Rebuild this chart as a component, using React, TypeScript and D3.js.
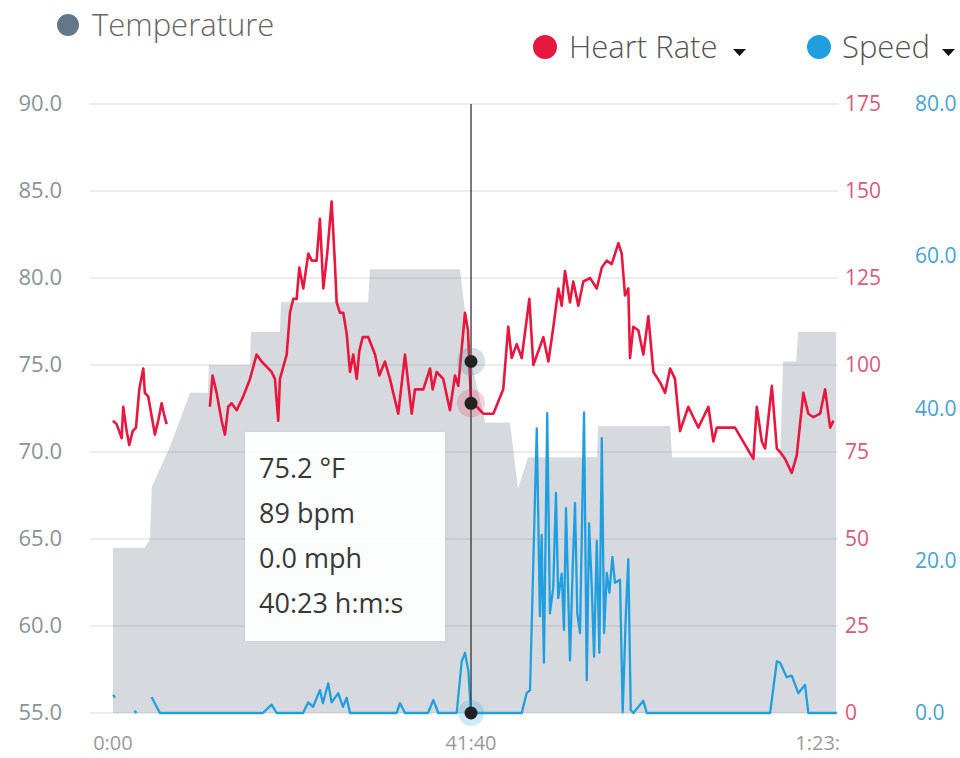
import React from "react";
import * as d3 from "d3";

// ---------- data (time in seconds) ----------
const timeTicks = [0, 2500, 5000];
const tempTicks = [55, 60, 65, 70, 75, 80, 85, 90];
const hrTicks = [0, 25, 50, 75, 100, 125, 150, 175];
const speedTicks = [0, 20, 40, 60, 80];

const tempTime = [0, 223, 258, 272, 398, 538, 663, 670, 957, 964, 1166, 1173, 1781, 1795, 2423, 2500, 2549, 2598, 2772, 2828, 2898, 3380, 3387, 3890, 3904, 4658, 4679, 4770, 4784, 5049];
const tempValue = [64.5, 64.5, 65.0, 68.0, 70.3, 73.4, 73.4, 75.0, 75.0, 76.9, 76.9, 78.6, 78.6, 80.5, 80.5, 75.2, 73.5, 71.7, 71.7, 67.9, 69.7, 69.7, 71.5, 71.5, 69.7, 69.7, 75.2, 75.2, 76.9, 76.9];

const hrTime = [0, 26, 61, 72, 96, 114, 138, 161, 184, 212, 223, 246, 293, 316, 340, 356, 375, 520,
  677, 696, 724, 759, 782, 805, 829, 864, 910, 957, 1003, 1038, 1108, 1131, 1154, 1166, 1213, 1236, 1259, 1283, 1301, 1329, 1364, 1388, 1422, 1445, 1469, 1496, 1527, 1550, 1562, 1585, 1608, 1632, 1655, 1678, 1702, 1720, 1744, 1783, 1830, 1860, 1899, 1934, 1992, 2039, 2086, 2109, 2167, 2214, 2232, 2260, 2306, 2353, 2388, 2411, 2458, 2479, 2500, 2540, 2586, 2656, 2725, 2760, 2784, 2819, 2854, 2907, 2935, 2970, 3005, 3040, 3075, 3110, 3133, 3156, 3191, 3214, 3249, 3284, 3331, 3378, 3413, 3448, 3482, 3529, 3552, 3575, 3598, 3610, 3633, 3668, 3703, 3738, 3773, 3820, 3855, 3890, 3924, 3959, 4017, 4052, 4087, 4122, 4157, 4192, 4216, 4285, 4343, 4471, 4495, 4530, 4553, 4600, 4635, 4658, 4693, 4739, 4774, 4820, 4855, 4890, 4937, 4972, 5007, 5030];
const hrValue = [84, 83, 79, 88, 81, 77, 81, 82, 93, 99, 92, 91, 80, 84, 89, 86, 83, null,
  88, 97, 92, 84, 80, 88, 89, 87, 91, 96, 103, 101, 98, 96, 84, 96, 103, 115, 119, 119, 128, 122, 132, 130, 130, 142, 122, 132, 147, 129, 118, 115, 115, 109, 98, 103, 96, 104, 108, 108, 103, 97, 101, 96, 86, 103, 86, 93, 93, 99, 93, 98, 96, 87, 97, 94, 115, 110, 89, 88, 86, 86, 93, 111, 102, 106, 102, 119, 100, 104, 108, 101, 111, 122, 117, 127, 118, 124, 117, 124, 125, 122, 128, 130, 129, 135, 132, 120, 122, 102, 111, 110, 103, 114, 98, 95, 92, 99, 96, 81, 88, 85, 82, 85, 88, 78, 82, 82, 82, 73, 88, 78, 76, 94, 76, 75, 73, 69, 74, 92, 86, 85, 86, 93, 82, 84];

const speedTime = [2, 14, 60, 150, 165, 200, 270, 328, 1047, 1108, 1143, 1327, 1364, 1397, 1445, 1466, 1503, 1527, 1573, 1606, 1632, 1655, 1981, 2004, 2039, 2200, 2237, 2272, 2400, 2435, 2458, 2481, 2500, 2854, 2888, 2912, 2959, 2981, 2993, 3009, 3032, 3051, 3074, 3093, 3109, 3133, 3149, 3163, 3191, 3210, 3226, 3242, 3261, 3289, 3308, 3324, 3343, 3359, 3378, 3396, 3413, 3429, 3448, 3466, 3487, 3505, 3540, 3559, 3580, 3598, 3615, 3633, 3703, 3727, 4588, 4635, 4658, 4704, 4739, 4785, 4832, 4855, 5053];
const speedValue = [2.4, 2.0, null, 0.3, 0, null, 2.1, 0, 0, 1.1, 0, 0, 1.4, 0.8, 3.0, 1.3, 3.9, 1.4, 2.6, 0.8, 2.0, 0, 0, 1.3, 0, 0, 1.7, 0, 0, 6.8, 7.9, 5.6, 0, 0, 2.6, 3.0, 37.4, 12.7, 23.4, 6.6, 39.4, 13.1, 16.5, 28.9, 15.1, 18.3, 10.9, 26.9, 6.9, 19.1, 27.6, 13.1, 10.5, 39.5, 4.3, 24.9, 16.5, 7.4, 22.6, 7.9, 36.1, 10.5, 18.4, 15.8, 20.5, 17.1, 17.5, 0.1, 12.5, 20.2, 0.4, 0, 1.6, 0, 0, 6.8, 6.6, 4.7, 4.9, 2.6, 3.7, 0, 0];

const hoverTime = 2500;
const hoverTemp = 75.2;
const hoverHr = 89;
const hoverSpeed = 0.0;
const tooltipLines = ["75.2 °F", "89 bpm", "0.0 mph", "40:23 h:m:s"];

const seriesNames = ["Temperature", "Heart Rate", "Speed"];

// ---------- layout ----------
const W = 960;
const H = 758;
const plotLeft = 90;
const plotRight = 838;
const plotTop = 104;
const plotBottom = 713;
const FONT = "'Open Sans', 'Noto Sans', sans-serif";

const TEMP_COLOR = "#63778a";
const HR_COLOR = "#e8173f";
const SPEED_COLOR = "#1f9fe0";

function fmtTime(s: number) {
  const h = Math.floor(s / 3600);
  const m = Math.floor((s % 3600) / 60);
  const sec = Math.round(s % 60);
  const ss = String(sec).padStart(2, "0");
  if (h > 0) return `${h}:${String(m).padStart(2, "0")}:${ss}`;
  return `${m}:${ss}`;
}

export default function App() {
  const x = d3.scaleLinear().domain([-160, 5062]).range([plotLeft, plotRight]);
  const yT = d3.scaleLinear().domain([55, 90]).range([plotBottom, plotTop]);
  const yH = d3.scaleLinear().domain([0, 175]).range([plotBottom, plotTop]);
  const yS = d3.scaleLinear().domain([0, 80]).range([plotBottom, plotTop]);

  const tempData = tempTime.map((t, i) => ({ t, v: tempValue[i] }));
  const hrData = hrTime.map((t, i) => ({ t, v: hrValue[i] as number | null }));
  const speedData = speedTime.map((t, i) => ({ t, v: speedValue[i] as number | null }));

  const area = d3
    .area<{ t: number; v: number }>()
    .x((d) => x(d.t))
    .y0(yT(55))
    .y1((d) => yT(d.v))(tempData) as string;

  const hrLine = d3
    .line<{ t: number; v: number | null }>()
    .defined((d) => d.v !== null)
    .x((d) => x(d.t))
    .y((d) => yH(d.v as number))(hrData) as string;

  const spLine = d3
    .line<{ t: number; v: number | null }>()
    .defined((d) => d.v !== null)
    .x((d) => x(d.t))
    .y((d) => yS(d.v as number))(speedData) as string;

  const hx = x(hoverTime);

  return (
    <svg
      width={W}
      height={H}
      style={{ position: "absolute", left: 0, top: 0, background: "#fff" }}
      fontFamily={FONT}
    >
      <defs>
        <clipPath id="xclip">
          <rect x={0} y={0} width={plotRight + 1} height={H} />
        </clipPath>
        <filter id="shadow" x="-10%" y="-10%" width="120%" height="120%">
          <feDropShadow dx="0" dy="1" stdDeviation="2" floodColor="#000" floodOpacity="0.06" />
        </filter>
      </defs>

      {/* legend */}
      <circle cx={68} cy={25} r={11} fill={TEMP_COLOR} />
      <text x={92} y={36} fontSize={31} fill="#666" fontWeight={300}>
        {seriesNames[0]}
      </text>
      <circle cx={545} cy={47} r={12} fill={HR_COLOR} />
      <text x={569} y={58} fontSize={31} fill="#555" fontWeight={300}>
        {seriesNames[1]}
      </text>
      <path d="M733,49 L746,49 L739.5,56 Z" fill="#111" />
      <circle cx={819} cy={47} r={12} fill={SPEED_COLOR} />
      <text x={842} y={58} fontSize={31} fill="#555" fontWeight={300}>
        {seriesNames[2]}
      </text>
      <path d="M942,49 L955,49 L948.5,56 Z" fill="#111" />

      {/* gridlines */}
      {tempTicks.map((t) => (
        <line key={t} x1={plotLeft} x2={plotRight} y1={yT(t)} y2={yT(t)} stroke="#d9d9d9" strokeWidth={1} />
      ))}

      {/* temperature area */}
      <path d={area} fill="rgb(120,134,148)" fillOpacity={0.3} />

      {/* left axis */}
      {tempTicks.map((t) => (
        <text key={t} x={62} y={yT(t) + 7} textAnchor="end" fontSize={22} fill="#8b9299">
          {t.toFixed(1)}
        </text>
      ))}
      {/* heart-rate axis */}
      {hrTicks.map((t) => (
        <text key={t} x={845} y={yH(t) + 7} fontSize={21} fill="#d65a7c">
          {t}
        </text>
      ))}
      {/* speed axis */}
      {speedTicks.map((t) => (
        <text key={t} x={915} y={yS(t) + 7} fontSize={21} fill="#46a3d1">
          {t.toFixed(1)}
        </text>
      ))}
      {/* x axis */}
      <g clipPath="url(#xclip)">
        {timeTicks.map((t) => (
          <text key={t} x={x(t)} y={750} textAnchor="middle" fontSize={20} fill="#9a9a9a">
            {fmtTime(t)}
          </text>
        ))}
      </g>

      {/* series lines */}
      <path d={hrLine} fill="none" stroke={HR_COLOR} strokeWidth={2.6} strokeLinejoin="round" />
      <path d={spLine} fill="none" stroke={SPEED_COLOR} strokeWidth={2.3} strokeLinejoin="round" />

      {/* crosshair */}
      <line x1={hx} x2={hx} y1={plotTop} y2={plotBottom} stroke="#333" strokeWidth={1.3} />

      {/* hover markers */}
      <circle cx={hx} cy={yT(hoverTemp)} r={14} fill={TEMP_COLOR} fillOpacity={0.25} />
      <circle cx={hx} cy={yT(hoverTemp)} r={6.5} fill="#222" />
      <circle cx={hx} cy={yH(hoverHr)} r={14} fill={HR_COLOR} fillOpacity={0.2} />
      <circle cx={hx} cy={yH(hoverHr)} r={6.5} fill="#222" />
      <circle cx={hx} cy={yS(hoverSpeed)} r={13} fill={SPEED_COLOR} fillOpacity={0.22} />
      <circle cx={hx} cy={yS(hoverSpeed)} r={6.5} fill="#222" />

      {/* tooltip */}
      <g>
        <rect x={245} y={432} width={200} height={209} fill="#fff" fillOpacity={0.94} filter="url(#shadow)" />
        {tooltipLines.map((s, i) => (
          <text key={i} x={259} y={478 + i * 45} fontSize={27} fill="#383838">
            {s}
          </text>
        ))}
      </g>
    </svg>
  );
}
